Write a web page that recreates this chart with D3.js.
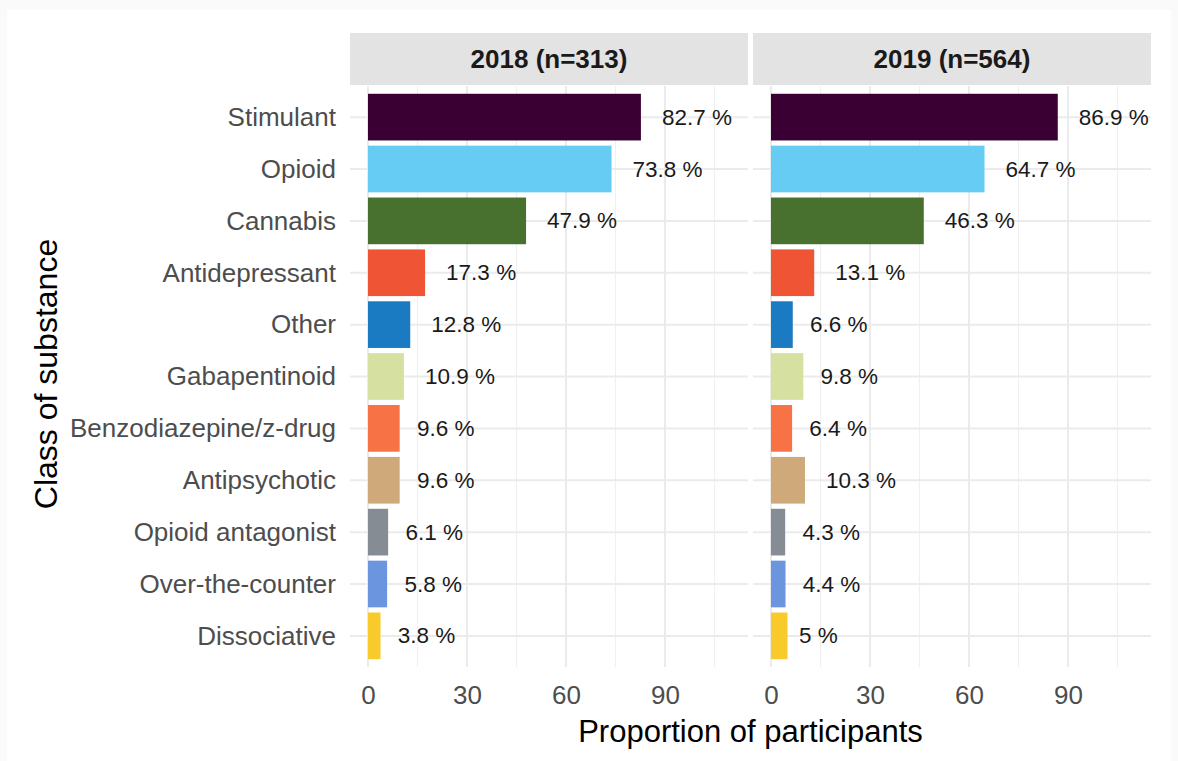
<!DOCTYPE html>
<html>
<head>
<meta charset="utf-8">
<script src="https://cdn.jsdelivr.net/npm/d3@7"></script>
<style>
  html, body { margin: 0; padding: 0; background: #fafafa; }
  svg { display: block; }
  text { font-family: "Liberation Sans", Arial, sans-serif; }
</style>
</head>
<body>
<svg id="chart" width="1178" height="761"></svg>
<script>
// ---- data ----
const categories = ["Stimulant", "Opioid", "Cannabis", "Antidepressant", "Other",
  "Gabapentinoid", "Benzodiazepine/z-drug", "Antipsychotic", "Opioid antagonist",
  "Over-the-counter", "Dissociative"];
const panels = ["2018 (n=313)", "2019 (n=564)"];
const values2018 = [82.7, 73.8, 47.9, 17.3, 12.8, 10.9, 9.6, 9.6, 6.1, 5.8, 3.8];
const values2019 = [86.9, 64.7, 46.3, 13.1, 6.6, 9.8, 6.4, 10.3, 4.3, 4.4, 5.0];
const labels2018 = ["82.7 %", "73.8 %", "47.9 %", "17.3 %", "12.8 %", "10.9 %", "9.6 %", "9.6 %", "6.1 %", "5.8 %", "3.8 %"];
const labels2019 = ["86.9 %", "64.7 %", "46.3 %", "13.1 %", "6.6 %", "9.8 %", "6.4 %", "10.3 %", "4.3 %", "4.4 %", "5 %"];
const colors = ["#3b0033", "#66ccf4", "#48702e", "#ef5535", "#1a7bc2", "#d6e1a1",
  "#f77245", "#cfa97a", "#868c93", "#6b95df", "#f8ca2c"];
const xTicks = [0, 30, 60, 90];
const xMinor = [15, 45, 75, 105];
const xTitle = "Proportion of participants";
const yTitle = "Class of substance";

// ---- layout ----
const svg = d3.select("#chart");
svg.append("rect").attr("x", 7).attr("y", 10).attr("width", 1164).attr("height", 751).attr("fill", "#ffffff");

const panelLefts = [350, 753];
const panelW = 398;
const plotTop = 86, plotBottom = 667;
const stripTop = 33, stripBottom = 85;

// ggplot-like discrete expansion: 0.6 step padding at both ends, bar width 0.9
const step = (plotBottom - plotTop) / (categories.length + 0.2);
const yc = d3.scalePoint().domain(categories)
  .range([plotTop + 0.6 * step, plotBottom - 0.6 * step]);
const barH = step * 0.9;

const panelData = [
  { title: panels[0], values: values2018, labels: labels2018 },
  { title: panels[1], values: values2019, labels: labels2019 }
];

panelData.forEach((p, pi) => {
  const left = panelLefts[pi];
  const x = d3.scaleLinear().domain([-5.45, 115.15]).range([left, left + panelW]);
  const g = svg.append("g");

  // strip
  g.append("rect").attr("x", left).attr("y", stripTop).attr("width", panelW)
    .attr("height", stripBottom - stripTop).attr("fill", "#e3e3e3");
  g.append("text").attr("x", left + panelW / 2).attr("y", (stripTop + stripBottom) / 2)
    .attr("text-anchor", "middle").attr("dominant-baseline", "central")
    .attr("font-size", 26).attr("font-weight", "bold").attr("fill", "#1a1a1a")
    .text(p.title);

  // minor grid
  g.selectAll(".minor").data(xMinor).enter().append("line")
    .attr("x1", d => x(d)).attr("x2", d => x(d))
    .attr("y1", plotTop).attr("y2", plotBottom)
    .attr("stroke", "#f0f0f0").attr("stroke-width", 1.2);
  // major grid
  g.selectAll(".major").data(xTicks).enter().append("line")
    .attr("x1", d => x(d)).attr("x2", d => x(d))
    .attr("y1", plotTop).attr("y2", plotBottom)
    .attr("stroke", "#ebebeb").attr("stroke-width", 2);
  // horizontal grid
  g.selectAll(".hgrid").data(categories).enter().append("line")
    .attr("x1", left).attr("x2", left + panelW)
    .attr("y1", d => yc(d)).attr("y2", d => yc(d))
    .attr("stroke", "#ebebeb").attr("stroke-width", 2);

  // bars
  g.selectAll(".bar").data(categories).enter().append("rect")
    .attr("x", x(0))
    .attr("y", d => yc(d) - barH / 2)
    .attr("width", (d, i) => x(p.values[i]) - x(0))
    .attr("height", barH)
    .attr("fill", (d, i) => colors[i]);

  // value labels (hjust = -0.3)
  g.selectAll(".lab").data(categories).enter().append("text")
    .attr("x", (d, i) => x(p.values[i]))
    .attr("y", d => yc(d))
    .attr("dominant-baseline", "central")
    .attr("font-size", 22.5).attr("fill", "#1a1a1a")
    .text((d, i) => p.labels[i])
    .each(function () {
      const w = this.getComputedTextLength();
      d3.select(this).attr("dx", 0.3 * w);
    });

  // x axis tick labels
  const axis = d3.axisBottom(x).tickValues(xTicks).tickSize(0).tickPadding(0);
  const ag = g.append("g").attr("transform", `translate(0,${plotBottom})`).call(axis);
  ag.select(".domain").remove();
  ag.selectAll("text").attr("font-size", 26).attr("fill", "#4d4d4d")
    .attr("y", 28).attr("dy", "0.35em")
    .style("font-family", '"Liberation Sans", Arial, sans-serif');
});

// y axis labels
const yAxis = d3.axisLeft(yc).tickSize(0).tickPadding(0);
const yg = svg.append("g").attr("transform", `translate(336,0)`).call(yAxis);
yg.select(".domain").remove();
yg.selectAll("text").attr("font-size", 26).attr("fill", "#4d4d4d")
  .style("font-family", '"Liberation Sans", Arial, sans-serif');

// axis titles
svg.append("text").attr("x", (panelLefts[0] + panelLefts[1] + panelW) / 2).attr("y", 731)
  .attr("text-anchor", "middle").attr("dominant-baseline", "central")
  .attr("font-size", 31).attr("fill", "#000").text(xTitle);
svg.append("text").attr("transform", "translate(46,374) rotate(-90)")
  .attr("text-anchor", "middle").attr("dominant-baseline", "central")
  .attr("font-size", 32).attr("fill", "#000").text(yTitle);
</script>
</body>
</html>
